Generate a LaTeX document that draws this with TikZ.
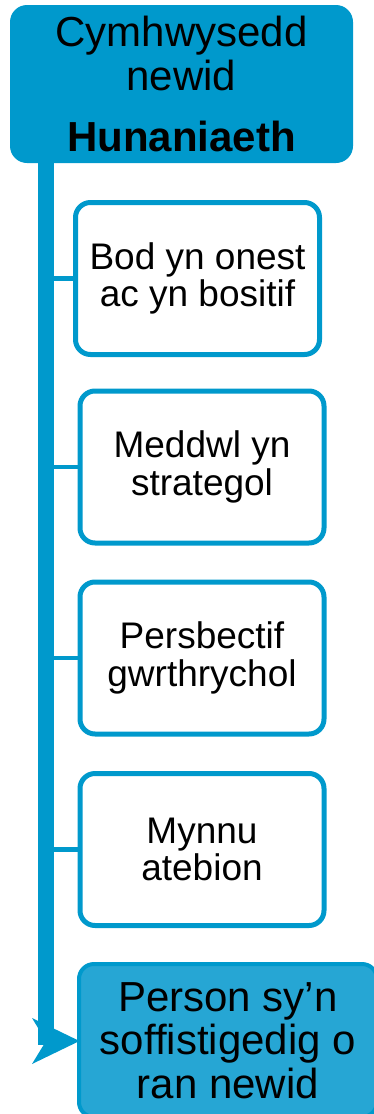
\documentclass[tikz,border=0pt]{standalone}
\usepackage{fontspec}
\setmainfont{Liberation Sans}
\usetikzlibrary{calc}
\definecolor{teal}{RGB}{0,153,204}
\definecolor{tealdot}{RGB}{38,166,212}
\tikzset{
  headbox/.style={draw=none, fill=teal, rounded corners=17pt, minimum width=343pt,
    minimum height=158pt, outer sep=0pt, align=center, inner sep=0pt,
    font=\fontsize{42}{44}\selectfont},
  itembox/.style={draw=teal, line width=5pt, fill=white, rounded corners=15pt,
    minimum width=244pt, minimum height=152pt, outer sep=0pt, align=center,
    inner sep=0pt, font=\fontsize{37}{37.5}\selectfont},
  goalbox/.style={draw=teal, line width=4pt, fill=tealdot, rounded corners=15pt,
    minimum width=298pt, minimum height=153pt, outer sep=0pt, align=center,
    inner sep=0pt, font=\fontsize{42}{43.5}\selectfont},
  spine/.style={draw=teal, line width=16pt},
  branch/.style={draw=teal, line width=4.5pt},
}
\begin{document}
\begin{tikzpicture}[x=1pt,y=-1pt]
  \useasboundingbox (0,0) rectangle (374,1114);
  \clip (0,0) rectangle (374,1114);

  % heading
  \node[headbox] (head) at (181.5,84) {Cymhwysedd\\newid\\[17pt]\textbf{Hunaniaeth}};

  % vertical spine and its arrow head
  \coordinate (bend) at (46,1041);
  \draw[spine] (head.south -| bend) -- ($(bend)+(0,4)$);

  % items
  \node[itembox] (b1) at (197.5,278.5) {Bod yn onest\\ac yn bositif};
  \node[itembox] (b2) at (202,467) {Meddwl yn\\strategol};
  \node[itembox] (b3) at (202,658) {Persbectif\\gwrthrychol};
  \node[itembox] (b4) at (202,849.5) {Mynnu\\atebion};

  \foreach \b in {b1,b2,b3,b4}
    \draw[branch] ($(bend |- \b.west)+(8,0)$) -- (\b.west);

  % arrow head into the final box
  \coordinate (tip) at (79.5,1041);
  \fill[teal] (tip) -- ++(-47.5,-23) -- (bend) -- ++(-14,23) -- cycle;

  \node[goalbox] (b5) at (228,1040.5) {Person sy’n\\soffistigedig o\\ran newid};
\end{tikzpicture}
\end{document}
